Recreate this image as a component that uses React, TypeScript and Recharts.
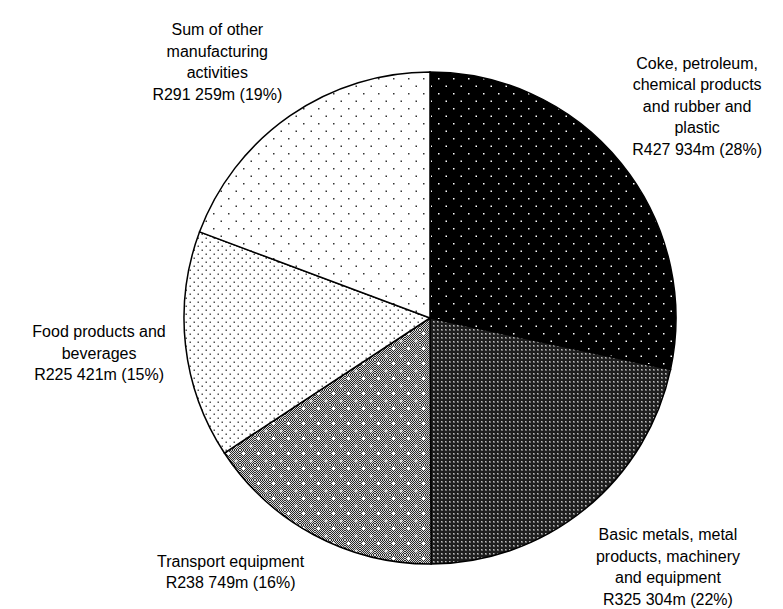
import { PieChart, Pie, Cell } from "recharts";

const CATEGORIES = [
  "Coke, petroleum, chemical products and rubber and plastic",
  "Basic metals, metal products, machinery and equipment",
  "Transport equipment",
  "Food products and beverages",
  "Sum of other manufacturing activities",
];

// category names as they wrap in the labels
const NAME_LINES = [
  ["Coke, petroleum,", "chemical products", "and rubber and", "plastic"],
  ["Basic metals, metal", "products, machinery", "and equipment"],
  ["Transport equipment"],
  ["Food products and", "beverages"],
  ["Sum of other", "manufacturing", "activities"],
];

// R million
const VALUES = [427934, 325304, 238749, 225421, 291259];

const PATTERNS = ["patCoke", "patMetal", "patTransport", "patFood", "patOther"];

// label placement relative to each slice's mid angle
const LABEL_OFFSETS = [
  { r: 73, dx: 19, dy: -11.5 },
  { r: 95, dx: 23, dy: -16 },
  { r: 34, dx: -67, dy: 7 },
  { r: 86, dx: -1, dy: -2 },
  { r: 78, dx: -28, dy: 9.5 },
];

const TOTAL = VALUES.reduce((s, v) => s + v, 0);
const LINE_H = 21.5;
const RADIAN = Math.PI / 180;

const fmt = (v: number) => {
  const s = String(v);
  return s.length > 3 ? `${s.slice(0, s.length - 3)} ${s.slice(-3)}` : s;
};

const data = CATEGORIES.map((name, i) => ({ name, value: VALUES[i] }));

function renderLabel(props: any) {
  const { cx, cy, midAngle, outerRadius, index } = props;
  const off = LABEL_OFFSETS[index];
  const rr = outerRadius + off.r;
  const x = cx + rr * Math.cos(-midAngle * RADIAN) + off.dx;
  const y = cy + rr * Math.sin(-midAngle * RADIAN) + off.dy;
  const pct = Math.round((VALUES[index] / TOTAL) * 100);
  const lines = [...NAME_LINES[index], `R${fmt(VALUES[index])}m (${pct}%)`];
  const top = y - ((lines.length - 1) * LINE_H) / 2;
  return (
    <text
      key={`lbl-${index}`}
      x={x}
      y={top}
      textAnchor="middle"
      dominantBaseline="central"
      fontFamily="'Liberation Sans', Arial, sans-serif"
      fontSize={16}
      fill="#000"
    >
      {lines.map((l, k) => (
        <tspan key={k} x={x} y={top + k * LINE_H}>
          {l}
        </tspan>
      ))}
    </text>
  );
}

export default function App() {
  return (
    <div style={{ position: "absolute", left: 0, top: 0, background: "#fff" }}>
      <PieChart width={783} height={609}>
        <defs>
          <pattern id="patCoke" width="15" height="15" patternUnits="userSpaceOnUse">
            <rect width="15" height="15" fill="#000" />
            <rect x="3" y="3" width="1.5" height="1.5" fill="#fff" />
            <rect x="10.5" y="10.5" width="1.5" height="1.5" fill="#fff" />
          </pattern>
          <pattern id="patMetal" width="4" height="4" patternUnits="userSpaceOnUse">
            <rect width="4" height="4" fill="#1e1e1e" />
            <rect x="1" y="1" width="2" height="2" fill="#6e6e6e" />
            <rect x="1" y="1" width="1" height="1" fill="#bdbdbd" />
          </pattern>
          <pattern id="chk" width="2" height="2" patternUnits="userSpaceOnUse">
            <rect width="2" height="2" fill="#2a2a2a" />
            <rect x="0" y="0" width="1" height="1" fill="#d8d8d8" />
            <rect x="1" y="1" width="1" height="1" fill="#d8d8d8" />
          </pattern>
          <pattern id="patTransport" width="15" height="15" patternUnits="userSpaceOnUse">
            <rect width="15" height="15" fill="url(#chk)" />
            <rect x="2" y="3" width="3" height="1" fill="#fff" />
            <rect x="3" y="2" width="1" height="3" fill="#fff" />
            <rect x="9.5" y="10.5" width="3" height="1" fill="#fff" />
            <rect x="10.5" y="9.5" width="1" height="3" fill="#fff" />
          </pattern>
          <pattern id="patFood" width="8" height="8" patternUnits="userSpaceOnUse">
            <rect width="8" height="8" fill="#fff" />
            <rect x="1.5" y="1.5" width="1.5" height="1.5" fill="#555" />
            <rect x="5.5" y="5.5" width="1.5" height="1.5" fill="#555" />
          </pattern>
          <pattern id="patOther" width="15" height="15" patternUnits="userSpaceOnUse">
            <rect width="15" height="15" fill="#fff" />
            <rect x="3" y="3" width="1.5" height="1.5" fill="#333" />
            <rect x="10.5" y="10.5" width="1.5" height="1.5" fill="#333" />
          </pattern>
        </defs>
        <Pie
          data={data}
          dataKey="value"
          nameKey="name"
          cx={425}
          cy={313}
          outerRadius={246}
          startAngle={90}
          endAngle={-270}
          stroke="#000"
          strokeWidth={1.5}
          label={renderLabel}
          labelLine={false}
          isAnimationActive={false}
        >
          {data.map((d, i) => (
            <Cell key={d.name} fill={`url(#${PATTERNS[i]})`} />
          ))}
        </Pie>
      </PieChart>
    </div>
  );
}
